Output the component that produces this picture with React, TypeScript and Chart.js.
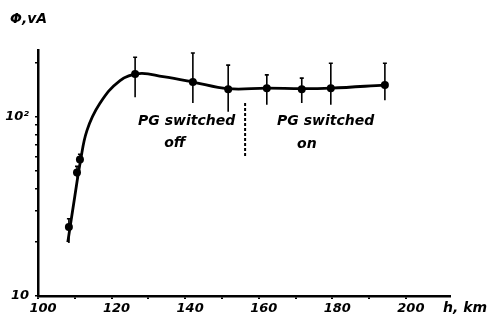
import React, { useEffect, useRef } from "react";
import { Chart, registerables } from "chart.js";

Chart.register(...registerables);

// Measured points (altitude h, km -> flux Φ)
const hValues = [108.4, 110.6, 111.4, 126.4, 142.1, 151.7, 162.2, 171.7, 179.6, 194.3];
const fluxValues = [24.3, 49, 58, 174, 157, 143, 145, 143, 145, 151];
const errLow = [19.8, 46, 55, 129, 120, 107, 117, 120, 117, 124];
const errHigh = [27, 53, 62, 216, 228, 195, 172, 165, 200, 200];

// Smooth curve drawn through the data
const curveH = [108.1, 110.0, 111.5, 113.3, 116.8, 122.3, 127.5, 134, 142.1, 151.6, 162.2, 171.7, 179.6, 194.3];
const curveY = [20, 36, 56, 84, 119, 160, 175, 168, 157, 144, 145, 144, 145, 151];

// Axis ticks
const xTicks = [100, 110, 120, 130, 140, 150, 160, 170, 180, 190, 200];
const xLabelled = [100, 120, 140, 160, 180, 200];
const yTicks = [10, 20, 30, 40, 50, 60, 70, 80, 90, 100, 200];
const yLabels: Record<number, string> = { 10: "10", 100: "10²" };

// Annotations (data coordinates)
const switchH = 156.3;
const switchFrom = 120;
const switchTo = 60;
const notes = [
  { text: "PG switched", h: 140.4, v: 95 },
  { text: "off", h: 137.2, v: 71 },
  { text: "PG switched", h: 178.2, v: 95 },
  { text: "on", h: 173.1, v: 70 },
];

const FONT = "'DejaVu Sans'";

const extras = {
  id: "extras",
  afterDatasetsDraw(chart: any) {
    const ctx = chart.ctx;
    const xs = chart.scales.x;
    const ys = chart.scales.y;
    ctx.save();
    ctx.strokeStyle = "#000";
    ctx.fillStyle = "#000";
    // error bars
    ctx.lineWidth = 1.6;
    hValues.forEach((h, i) => {
      const x = xs.getPixelForValue(h);
      const y1 = ys.getPixelForValue(errLow[i]);
      const y2 = ys.getPixelForValue(errHigh[i]);
      ctx.beginPath();
      ctx.moveTo(x, y1);
      ctx.lineTo(x, y2);
      ctx.moveTo(x - 2, y2);
      ctx.lineTo(x + 2, y2);
      ctx.stroke();
    });
    // dashed switch line
    ctx.lineWidth = 2;
    ctx.setLineDash([3, 2]);
    ctx.beginPath();
    const sx = xs.getPixelForValue(switchH);
    ctx.moveTo(sx, ys.getPixelForValue(switchFrom));
    ctx.lineTo(sx, ys.getPixelForValue(switchTo));
    ctx.stroke();
    ctx.setLineDash([]);
    // notes
    ctx.font = `italic bold 14px ${FONT}`;
    ctx.textAlign = "center";
    ctx.textBaseline = "middle";
    notes.forEach((n) => {
      ctx.fillText(n.text, xs.getPixelForValue(n.h), ys.getPixelForValue(n.v));
    });
    // axis titles
    ctx.textAlign = "left";
    ctx.font = `italic bold 14px ${FONT}`;
    ctx.fillText("h, km", xs.right - 7, xs.top + 12);
    ctx.fillText("Φ,vA", ys.right - 28, ys.top - 31);
    ctx.restore();
  },
};

export default function App() {
  const ref = useRef<HTMLCanvasElement | null>(null);
  useEffect(() => {
    if (!ref.current) return;
    const tickFont = { family: "DejaVu Sans", size: 13, style: "italic" as const, weight: "bold" as const };
    const chart = new Chart(ref.current, {
      type: "line",
      data: {
        datasets: [
          {
            label: "curve",
            data: curveH.map((h, i) => ({ x: h, y: curveY[i] })),
            borderColor: "#000",
            borderWidth: 2.8,
            pointRadius: 0,
            tension: 0.4,
            fill: false,
          },
          {
            label: "data",
            data: hValues.map((h, i) => ({ x: h, y: fluxValues[i] })),
            showLine: false,
            pointRadius: 4,
            pointBackgroundColor: "#000",
            pointBorderColor: "#000",
            pointBorderWidth: 0,
          },
        ],
      },
      options: {
        animation: false,
        responsive: false,
        events: [],
        layout: { padding: { top: 50, right: 45, left: 0, bottom: 0 } },
        plugins: { legend: { display: false }, tooltip: { enabled: false } },
        scales: {
          x: {
            type: "linear",
            min: 100,
            max: 212,
            afterFit: (s: any) => {
              s.height = 31;
            },
            afterBuildTicks: (s: any) => {
              s.ticks = xTicks.map((v) => ({ value: v }));
            },
            border: { color: "#000", width: 2.5 },
            grid: { drawOnChartArea: false, color: "#000", lineWidth: 2, tickLength: 3 },
            ticks: {
              color: "#000",
              font: tickFont,
              padding: 2,
              labelOffset: 5,
              maxRotation: 0,
              autoSkip: false,
              callback: (v: any) => (xLabelled.includes(Number(v)) ? String(v) : ""),
            },
          },
          y: {
            type: "logarithmic",
            min: 10,
            max: 237,
            afterFit: (s: any) => {
              s.width = 38;
            },
            afterBuildTicks: (s: any) => {
              s.ticks = yTicks.map((v) => ({ value: v }));
            },
            border: { color: "#000", width: 2.5 },
            grid: { drawOnChartArea: false, color: "#000", lineWidth: 1.5, tickLength: 3 },
            ticks: {
              color: "#000",
              font: tickFont,
              padding: 6,
              autoSkip: false,
              callback: (v: any) => yLabels[Number(v)] ?? "",
            },
          },
        },
      },
      plugins: [extras],
    });
    return () => chart.destroy();
  }, []);
  return (
    <div style={{ position: "fixed", left: 0, top: 0, width: 495, height: 327, background: "#fff" }}>
      <canvas ref={ref} width={495} height={327} />
    </div>
  );
}
